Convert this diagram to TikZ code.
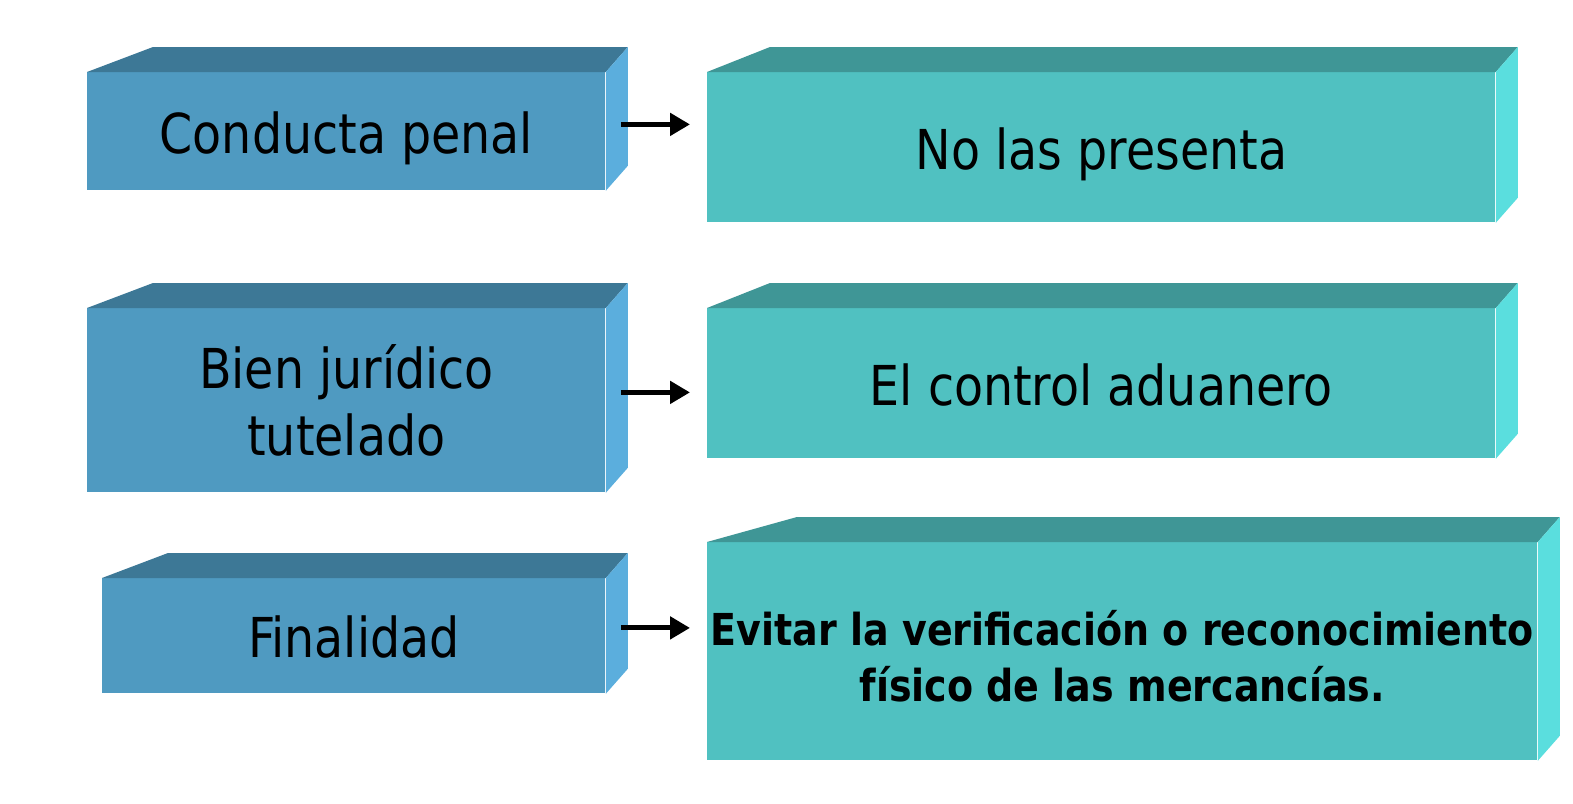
\documentclass[tikz,border=0pt]{standalone}
\usepackage{fontspec}
\setmainfont{DejaVu Sans Condensed}[FakeStretch=0.96]
\usetikzlibrary{arrows.meta,calc}

\definecolor{bluefront}{HTML}{4F9AC1}
\definecolor{bluetop}{HTML}{3D7896}
\definecolor{blueside}{HTML}{5BAEDD}
\definecolor{tealfront}{HTML}{50C1C1}
\definecolor{tealtop}{HTML}{3F9696}
\definecolor{tealside}{HTML}{5ADEDE}

\tikzset{
  leftbox/.style={fill=bluefront, inner sep=0pt, anchor=north west, align=center,
    font=\fontsize{27.5}{33.5}\selectfont},
  rightbox/.style={fill=tealfront, inner sep=0pt, anchor=north west, align=center,
    font=\fontsize{27.5}{33.5}\selectfont},
  oneline/.style={text height=29pt, text depth=7pt},
  arr/.style={line width=2.5pt, -{Triangle[length=10pt,width=11pt]}}
}

% top and side faces of a block: node, top colour, side colour, slant
\newcommand\blockfaces[4]{%
  \fill[#2] (#1.north west) -- ++(#4,-25) -- ($(#1.north east)+(22,-25)$) -- (#1.north east) -- cycle;
  \fill[#3] (#1.north east) -- ++(22,-25) -- ($(#1.south east)+(22,-25)$) -- (#1.south east) -- cycle;
}

\begin{document}
\begin{tikzpicture}[x=0.5pt,y=-0.5pt]
  \fill[white] (0,0) rectangle (1573,803);
  \useasboundingbox (0,0) rectangle (1573,803);

  %NODE
  \node[leftbox, oneline, minimum width=259pt, minimum height=59pt] (L1) at (87,72) {Conducta penal};
  \node[rightbox, oneline, minimum width=394pt, minimum height=75pt] (R1) at (707,72) {No las presenta};
  \node[leftbox, minimum width=259pt, minimum height=92pt] (L2) at (87,308) {Bien jurídico\\tutelado};
  \node[rightbox, oneline, minimum width=394pt, minimum height=75pt] (R2) at (707,308) {El control aduanero};
  \node[leftbox, oneline, minimum width=251.5pt, minimum height=57.5pt] (L3) at (102,578) {Finalidad};
  \node[rightbox, minimum width=415pt, minimum height=109pt, font=\bfseries\fontsize{22}{28}\selectfont] (R3) at (707,542)
    {\rule{0pt}{22pt}Evitar la verificación o reconocimiento\\físico de las mercancías.};

  %FACES
  \blockfaces{L1}{bluetop}{blueside}{66}
  \blockfaces{R1}{tealtop}{tealside}{63}
  \blockfaces{L2}{bluetop}{blueside}{66}
  \blockfaces{R2}{tealtop}{tealside}{63}
  \blockfaces{L3}{bluetop}{blueside}{66}
  \blockfaces{R3}{tealtop}{tealside}{90}

  %EDGE
  \draw[arr] ([shift={(15,-7)}]L1.east) -- ([shift={(-17,-7)}]L1.east -| R1.west);
  \draw[arr] ([shift={(15,-8)}]L2.east) -- ([shift={(-17,-8)}]L2.east -| R2.west);
  \draw[arr] ([shift={(15,-8)}]L3.east) -- ([shift={(-17,-8)}]L3.east -| R3.west);
\end{tikzpicture}
\end{document}
